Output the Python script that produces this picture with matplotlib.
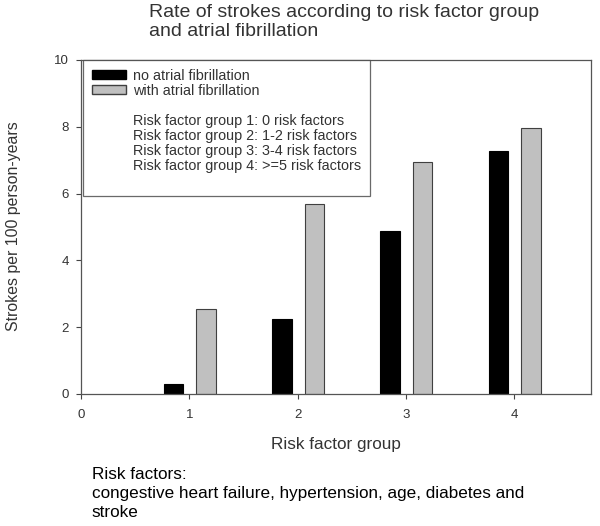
import matplotlib.pyplot as plt
from matplotlib.patches import Patch
import numpy as np

plt.rcParams['font.family'] = ['Liberation Sans', 'DejaVu Sans']

# data
groups = [1, 2, 3, 4]
no_af = [0.30, 2.25, 4.88, 7.27]
with_af = [2.55, 5.69, 6.94, 7.96]
group_notes = [
    "Risk factor group 1: 0 risk factors",
    "Risk factor group 2: 1-2 risk factors",
    "Risk factor group 3: 3-4 risk factors",
    "Risk factor group 4: >=5 risk factors",
]

txt = '#333333'
fig = plt.figure(figsize=(6, 5.26), dpi=100)
ax = fig.add_axes([0.135, 0.251, 0.850, 0.635])

x = np.array(groups)
w = 0.18
ax.bar(x - 0.145, no_af, w, color='black', edgecolor='black', linewidth=0.8)
ax.bar(x + 0.155, with_af, w, color='#c0c0c0', edgecolor='#404040', linewidth=0.8)

ax.set_xlim(0, 4.71)
ax.set_ylim(0, 10)
ax.set_xticks([0, 1, 2, 3, 4])
ax.set_yticks([0, 2, 4, 6, 8, 10])
ax.tick_params(direction='out', length=3.6, pad=5, labelsize=9.5, colors='#444444', labelcolor=txt)
ax.tick_params(axis='x', pad=7)
for s in ax.spines.values():
    s.set_color('#555555')
    s.set_linewidth(0.9)

ax.set_xlabel("Risk factor group", fontsize=12.3, color=txt, labelpad=12)
fig.text(0.022, 0.57, "Strokes per 100 person-years", rotation=90, fontsize=11.4,
         color=txt, ha='center', va='center')

blank = Patch(facecolor='none', edgecolor='none')
handles = [Patch(facecolor='black', edgecolor='black'),
           Patch(facecolor='#c0c0c0', edgecolor='#404040'),
           blank] + [blank] * len(group_notes) + [blank]
labels = ["no atrial fibrillation", "with atrial fibrillation", ""] + group_notes + [""]
leg = ax.legend(handles, labels, loc='upper left', bbox_to_anchor=(0.004, 1.0),
                fontsize=10.4, frameon=True, fancybox=False, handlelength=2.35,
                handleheight=0.5, labelspacing=0.07, borderpad=0.6,
                borderaxespad=0, handletextpad=0.5)
leg.get_frame().set_edgecolor('#444444')
leg.get_frame().set_linewidth(0.9)
for t in leg.get_texts():
    t.set_color(txt)

fig.text(0.249, 0.992, "Rate of strokes according to risk factor group\nand atrial fibrillation",
         fontsize=14, color=txt, ha='left', va='top', linespacing=1.12)

fig.text(0.153, 0.112, "Risk factors:\ncongestive heart failure, hypertension, age, diabetes and\nstroke",
         fontsize=12.3, color='black', ha='left', va='top', linespacing=1.32)

fig.savefig("out.png", dpi=100)
